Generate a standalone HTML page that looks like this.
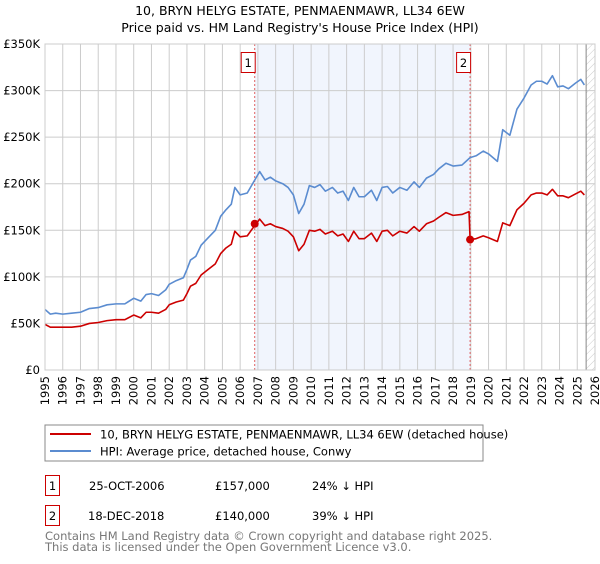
<!DOCTYPE html>
<html><head><meta charset="utf-8"><style>
body{margin:0;background:#fff;font-family:"DejaVu Sans","Liberation Sans",sans-serif;}
svg text{font-family:"DejaVu Sans","Liberation Sans",sans-serif;}
</style></head><body>
<svg id="c" width="600" height="560" xmlns="http://www.w3.org/2000/svg">
<defs><pattern id="hatch" width="5" height="5" patternUnits="userSpaceOnUse" patternTransform="rotate(45)"><line x1="0" y1="0" x2="0" y2="5" stroke="#ccc" stroke-width="1"/></pattern></defs>
<text x="300" y="15" text-anchor="middle" font-size="12.5" fill="#000">10, BRYN HELYG ESTATE, PENMAENMAWR, LL34 6EW</text>
<text x="300" y="32" text-anchor="middle" font-size="12.5" fill="#000">Price paid vs. HM Land Registry's House Price Index (HPI)</text>
<g id="plot"></g>
<rect x="45" y="425" width="438" height="36" fill="none" stroke="#888"/>
<line x1="50" y1="434" x2="91" y2="434" stroke="#cc0000" stroke-width="2"/>
<text x="100" y="438.5" font-size="11.5">10, BRYN HELYG ESTATE, PENMAENMAWR, LL34 6EW (detached house)</text>
<line x1="50" y1="451" x2="91" y2="451" stroke="#5b8cd0" stroke-width="2"/>
<text x="100" y="455.5" font-size="11.5">HPI: Average price, detached house, Conwy</text>
<g>
<rect x="45.5" y="475.5" width="14" height="20" fill="#fff" stroke="#cc0000"/>
<text x="52.5" y="490" text-anchor="middle" font-size="11.5">1</text>
<text x="89" y="490" font-size="11.5">25-OCT-2006</text>
<text x="215" y="490" font-size="11.5">£157,000</text>
<text x="312" y="490" font-size="11.5">24% ↓ HPI</text></g>
<g>
<rect x="45.5" y="505.5" width="14" height="20" fill="#fff" stroke="#cc0000"/>
<text x="52.5" y="520" text-anchor="middle" font-size="11.5">2</text>
<text x="88" y="520" font-size="11.5">18-DEC-2018</text>
<text x="215" y="520" font-size="11.5">£140,000</text>
<text x="312" y="520" font-size="11.5">39% ↓ HPI</text></g>
<text x="45" y="540" font-size="11.5" fill="#777">Contains HM Land Registry data © Crown copyright and database right 2025.</text>
<text x="45" y="551" font-size="11.5" fill="#777">This data is licensed under the Open Government Licence v3.0.</text>
</svg>
<script>
const yTicks=[0,50,100,150,200,250,300,350];
const yTickLabels=["£0","£50K","£100K","£150K","£200K","£250K","£300K","£350K"];
const xYears=[1995,1996,1997,1998,1999,2000,2001,2002,2003,2004,2005,2006,2007,2008,2009,2010,2011,2012,2013,2014,2015,2016,2017,2018,2019,2020,2021,2022,2023,2024,2025,2026];
const hpiT=[1995,1995.3,1995.6,1996,1996.5,1997,1997.5,1998,1998.5,1999,
1999.5,2000,2000.4,2000.7,2001,2001.4,2001.8,2002,2002.4,2002.8,
2003,2003.2,2003.5,2003.8,2004.2,2004.6,2004.9,2005.2,2005.5,2005.7,
2006,2006.4,2006.7,2007.1,2007.4,2007.7,2008,2008.4,2008.7,2009,
2009.3,2009.6,2009.9,2010.2,2010.5,2010.8,2011.2,2011.5,2011.8,2012.1,
2012.4,2012.7,2013,2013.4,2013.7,2014,2014.3,2014.6,2015,2015.4,
2015.8,2016.1,2016.5,2016.9,2017.2,2017.6,2018,2018.5,2018.96,2019.3,
2019.7,2020,2020.5,2020.8,2021.2,2021.6,2022,2022.4,2022.7,2023,
2023.3,2023.6,2023.9,2024.2,2024.5,2024.9,2025.2,2025.4];
const hpiV=[65,60,61,60,61,62,66,67,70,71,
71,77,74,81,82,80,86,92,96,99,
108,118,122,134,142,150,165,172,178,196,
188,190,200,213,204,207,203,200,196,188,
168,178,198,196,199,192,196,190,192,182,
196,186,186,193,182,196,197,190,196,193,
202,196,206,210,216,222,219,220,228,230,
235,232,224,258,252,280,292,306,310,310,
307,316,304,305,302,308,312,306];
const priceT=[1995,1995.3,1995.6,1996,1996.5,1997,1997.5,1998,1998.5,1999,
1999.5,2000,2000.4,2000.7,2001,2001.4,2001.8,2002,2002.4,2002.8,
2003,2003.2,2003.5,2003.8,2004.2,2004.6,2004.9,2005.2,2005.5,2005.7,
2006,2006.4,2006.7,2007.1,2007.4,2007.7,2008,2008.4,2008.7,2009,
2009.3,2009.6,2009.9,2010.2,2010.5,2010.8,2011.2,2011.5,2011.8,2012.1,
2012.4,2012.7,2013,2013.4,2013.7,2014,2014.3,2014.6,2015,2015.4,
2015.8,2016.1,2016.5,2016.9,2017.2,2017.6,2018,2018.5,2018.9,2018.96,2019.3,
2019.7,2020,2020.5,2020.8,2021.2,2021.6,2022,2022.4,2022.7,2023,
2023.3,2023.6,2023.9,2024.2,2024.5,2024.9,2025.2,2025.4];
const priceV=[49,46,46,46,46,47,50,51,53,54,
54,59,56,62,62,61,65,70,73,75,
82,90,93,102,108,114,125,131,135,149,
143,144,152,162,155,157,154,152,149,143,
128,135,150,149,151,146,149,144,146,138,
149,141,141,147,138,149,150,144,149,147,
154,149,157,160,164,169,166,167,170,140,141,
144,142,138,158,155,172,179,188,190,190,
188,194,187,187,185,189,192,188];
const saleT=[2006.82,2018.96];
const saleV=[157,140];
const x=t=>45+(t-1995)*550/31, y=v=>370-v*326/350;
const ns="http://www.w3.org/2000/svg", g=document.getElementById('plot');
function mk(tag,a){const e=document.createElementNS(ns,tag);for(const k in a)e.setAttribute(k,a[k]);g.appendChild(e);return e;}
let e;
e=mk('rect',{x:x(saleT[0]),y:y(350),width:x(saleT[1])-x(saleT[0]),height:y(0)-y(350),fill:'#eef3fc',opacity:0.8});


e=mk('rect',{x:x(2025.5),y:y(350),width:x(2026)-x(2025.5),height:y(0)-y(350),fill:'url(#hatch)'});


xYears.forEach(t=>{const l=mk('line',{x1:x(t),x2:x(t),y1:y(350),y2:y(0),stroke:'#ccc'});


const tx=mk('text',{x:0,y:0,'font-size':11.5,'text-anchor':'end',transform:`translate(${x(t)+4},${y(0)+6}) rotate(-90)`});tx.textContent=t;

});
yTicks.forEach((v,i)=>{const l=mk('line',{x1:x(1995),x2:x(2026),y1:y(v),y2:y(v),stroke:'#ccc'});


const tx=mk('text',{x:40,y:y(v)+4,'font-size':11.5,'text-anchor':'end'});tx.textContent=yTickLabels[i];

});
e=mk('line',{x1:x(2025.5),x2:x(2025.5),y1:y(350),y2:y(0),stroke:'#888'});


saleT.forEach((t,i)=>{const l=mk('line',{x1:x(t),x2:x(t),y1:y(350),y2:y(0),stroke:'#e06060','stroke-dasharray':'2,2'});


const r=mk('rect',{x:x(t)-13.5,y:52.5,width:14,height:20,fill:'#fff',stroke:'#cc0000'});


const tx=mk('text',{x:x(t)-6.5,y:67,'font-size':11.5,'text-anchor':'middle'});tx.textContent=i+1;

});
function line(T,V,c,n){const p=mk('polyline',{points:T.map((t,i)=>x(t)+','+y(V[i])).join(' '),fill:'none',stroke:c,'stroke-width':1.6,'stroke-linejoin':'round'});

}
line(hpiT,hpiV,'#5b8cd0','hpi-line');
line(priceT,priceV,'#cc0000','price-line');
saleT.forEach((t,i)=>{const c=mk('circle',{cx:x(t),cy:y(saleV[i]),r:4,fill:'#cc0000'});

});
e=mk('rect',{x:x(1995),y:y(350),width:x(2026)-x(1995),height:y(0)-y(350),fill:'none',stroke:'#ccc'});


</script>
</body></html>
